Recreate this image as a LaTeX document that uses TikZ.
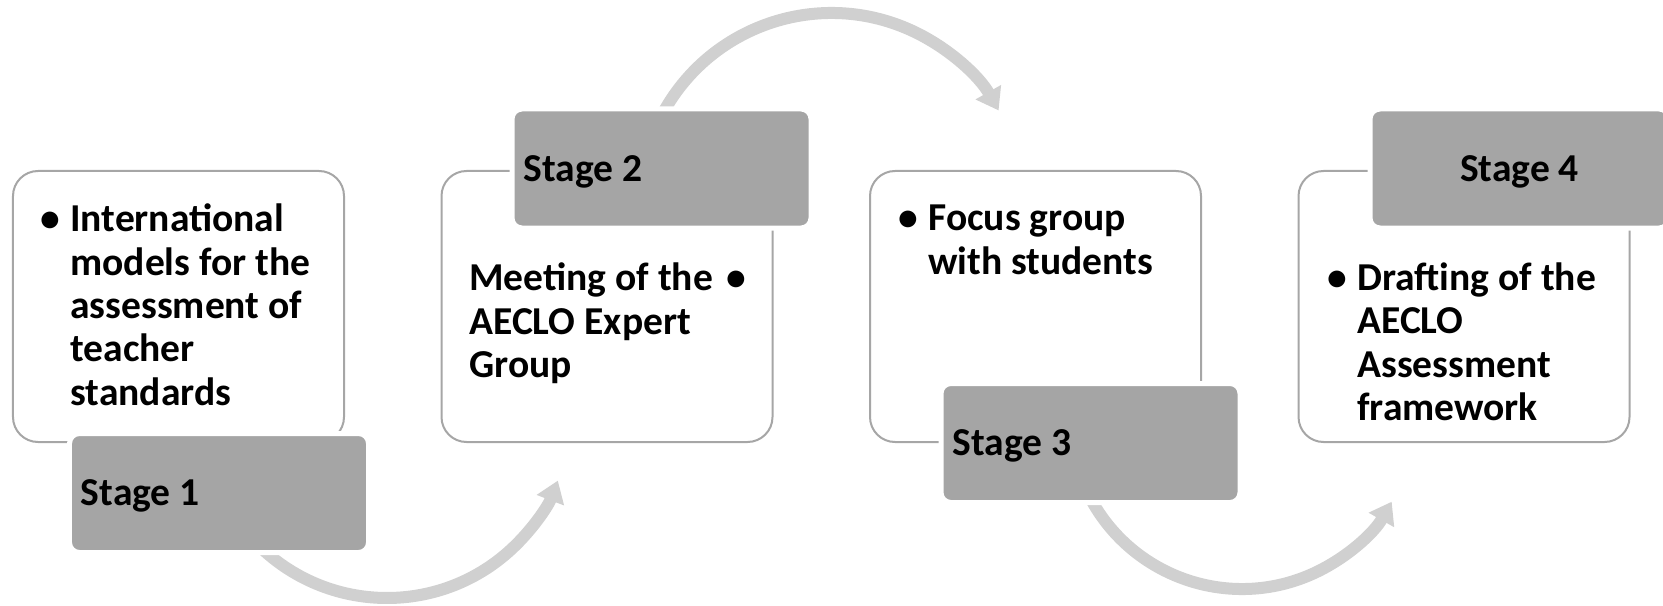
\documentclass[tikz,border=0pt]{standalone}
\usepackage{fontspec}
\setmainfont{Carlito}
\usetikzlibrary{positioning,arrows.meta}

\definecolor{tabgrey}{HTML}{A5A5A5}
\definecolor{framegrey}{HTML}{A6A6A6}
\definecolor{flowgrey}{HTML}{D0D0D0}

\newcommand\stagefont{\fontsize{22.5pt}{24.7pt}\selectfont\bfseries}

\tikzset{
  stagebox/.style={rectangle, rounded corners=5mm, draw=framegrey, line width=0.4mm,
    fill=white, minimum width=66.2mm, minimum height=54.2mm},
  stagetab/.style={rectangle, rounded corners=2mm, draw=white, line width=1mm,
    fill=tabgrey, minimum width=59.8mm, minimum height=23.8mm, inner xsep=2.3mm,
    text depth=0pt, font=\stagefont}
}

\begin{document}
\begin{tikzpicture}
    [ x=0.2mm, y=0.2mm,
      flow/.style={draw=flowgrey, line width=2.4mm, -{Triangle[width=5.6mm,length=4.2mm]}},
      body/.style={anchor=base west, inner sep=0pt, align=left, font=\stagefont}
    ]
    \useasboundingbox (0,0) rectangle (1663,605);

    % the bent arrows go first, their tails disappear under the tabs
    \coordinate (c1) at (387,190);
    \coordinate (c2) at (831.5,400);
    \coordinate (c3) at (1242,188);
    \draw[flow] (c1) ++(-137:183) arc[start angle=-137, end angle=-21, radius=183];
    \draw[flow] (c2) ++(154:192)  arc[start angle=154, end angle=29.5, radius=192];
    \draw[flow] (c3) ++(-155:172) arc[start angle=-155, end angle=-29.5, radius=172];

    \node[stagebox]                       (box1) at (178.5,298.5) {};
    \node[stagebox, right=19.1mm of box1] (box2)                  {};
    \node[stagebox, right=19.1mm of box2] (box3)                  {};
    \node[stagebox, right=19.1mm of box3] (box4)                  {};

    \node[stagetab] (stage1) at (219,112)      {\makebox[55.2mm][l]{Stage 1}};
    \node[stagetab] (stage2) at (661.5,436.5)  {\makebox[55.2mm][l]{Stage 2}};
    \node[stagetab] (stage3) at (1090.5,162)   {\makebox[55.2mm][l]{Stage 3}};
    \node[stagetab] (stage4) at (1519.5,436.5) {\makebox[55.2mm][c]{Stage 4}};

    % text nodes are anchored on the baseline of their last line
    \node[body] (item1) at (70,199.7)
      {\llap{\textbullet\hspace{2.1mm}}International\\models for the\\assessment of\\teacher\\standards};
    \node[body] (item2) at (469,227.3)
      {\makebox[51.4mm][l]{Meeting of the}\textbullet\\AECLO Expert\\Group};
    \node[body] (item3) at (928,330.6)
      {\llap{\textbullet\hspace{2.1mm}}Focus group\\with students};
    \node[body] (item4) at (1357,184.4)
      {\llap{\textbullet\hspace{2.1mm}}Drafting of the\\AECLO\\Assessment\\framework};
\end{tikzpicture}
\end{document}
